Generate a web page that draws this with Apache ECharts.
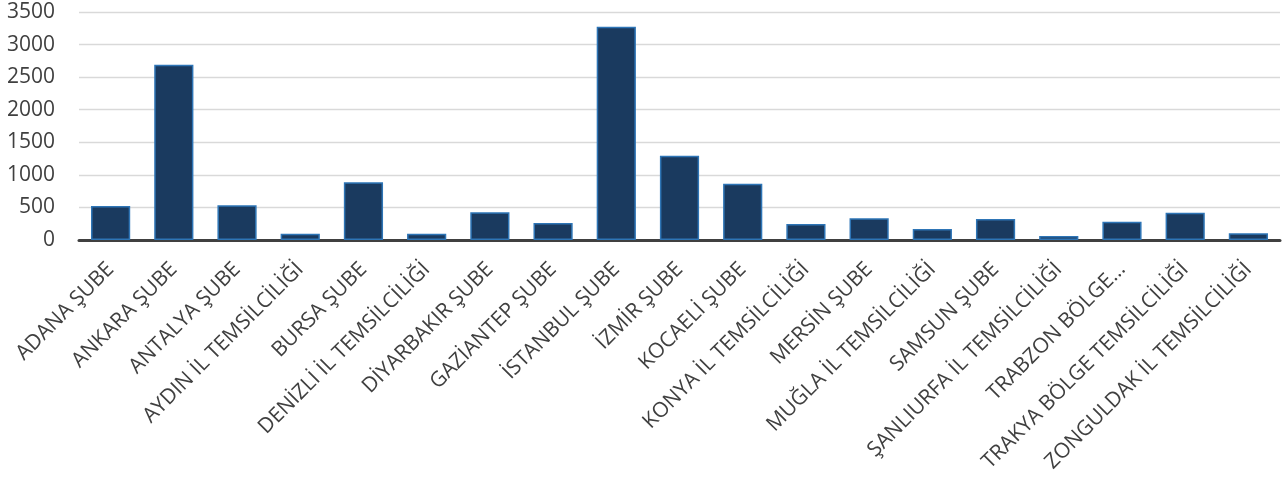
<!DOCTYPE html>
<html>
<head>
<meta charset="utf-8">
<script src="https://cdn.jsdelivr.net/npm/echarts@6/dist/echarts.min.js"></script>
<style>
html,body{margin:0;padding:0;background:#fff;}
#c{width:1288px;height:477px;}
</style>
</head>
<body>
<div id="c"></div>
<script>
const categories = [
  "ADANA ŞUBE","ANKARA ŞUBE","ANTALYA ŞUBE","AYDIN İL TEMSİLCİLİĞİ","BURSA ŞUBE",
  "DENİZLİ İL TEMSİLCİLİĞİ","DİYARBAKIR ŞUBE","GAZİANTEP ŞUBE","İSTANBUL ŞUBE","İZMİR ŞUBE",
  "KOCAELİ ŞUBE","KONYA İL TEMSİLCİLİĞİ","MERSİN ŞUBE","MUĞLA İL TEMSİLCİLİĞİ","SAMSUN ŞUBE",
  "ŞANLIURFA İL TEMSİLCİLİĞİ","TRABZON BÖLGE…","TRAKYA BÖLGE TEMSİLCİLİĞİ","ZONGULDAK İL TEMSİLCİLİĞİ"
];
const values = [523, 2690, 533, 97, 887, 97, 426, 262, 3272, 1292, 862, 246, 333, 169, 323, 62, 282, 420, 103];
const yTicks = [0, 500, 1000, 1500, 2000, 2500, 3000, 3500];

const chart = echarts.init(document.getElementById('c'), null, {renderer:'canvas'});
chart.setOption({
  animation: false,
  grid: {left: 79, right: 8, top: 12, bottom: 237, containLabel: false},
  xAxis: {
    type: 'category',
    data: categories,
    axisLine: {show: true, lineStyle: {color: '#404040', width: 3}},
    axisTick: {show: false},
    axisLabel: {
      rotate: 45, interval: 0, margin: 26,
      color: '#404040', fontFamily: 'Open Sans', fontSize: 21
    }
  },
  yAxis: {
    type: 'value',
    min: yTicks[0], max: yTicks[yTicks.length - 1], interval: 500,
    axisLine: {show: false},
    axisTick: {show: false},
    splitLine: {lineStyle: {color: '#d9d9d9', width: 1.3}},
    axisLabel: {
      color: '#404040', fontFamily: 'Open Sans', fontSize: 21, margin: 24,
      formatter: v => String(v)
    }
  },
  series: [{
    type: 'bar',
    data: values,
    barCategoryGap: '38%',
    itemStyle: {color: '#1a3a5f', borderColor: '#2e75b6', borderWidth: 1.5}
  }]
});
</script>
</body>
</html>
